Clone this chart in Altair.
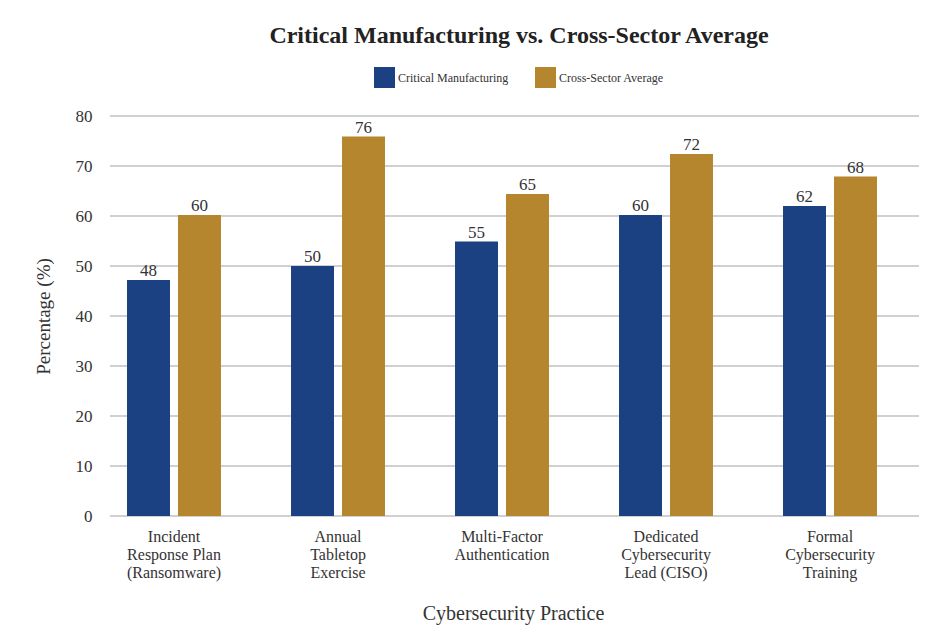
import altair as alt
import pandas as pd

practices = [
    "Incident Response Plan (Ransomware)",
    "Annual Tabletop Exercise",
    "Multi-Factor Authentication",
    "Dedicated Cybersecurity Lead (CISO)",
    "Formal Cybersecurity Training",
]
practice_lines = [
    ["Incident", "Response Plan", "(Ransomware)"],
    ["Annual", "Tabletop", "Exercise"],
    ["Multi-Factor", "Authentication"],
    ["Dedicated", "Cybersecurity", "Lead (CISO)"],
    ["Formal", "Cybersecurity", "Training"],
]
series = ["Critical Manufacturing", "Cross-Sector Average"]
cm_values = [47.2, 50.0, 54.9, 60.2, 62.0]
csa_values = [60.2, 75.9, 64.4, 72.4, 67.9]
cm_labels = ["48", "50", "55", "60", "62"]
csa_labels = ["60", "76", "65", "72", "68"]
y_ticks = [0, 10, 20, 30, 40, 50, 60, 70, 80]

colors = ["#1b4182", "#b5862e"]
FONT = "Liberation Serif"
TEXT = "#333333"

rows = []
for i, p in enumerate(practices):
    rows.append({"practice": p, "series": series[0], "value": cm_values[i], "label": cm_labels[i]})
    rows.append({"practice": p, "series": series[1], "value": csa_values[i], "label": csa_labels[i]})
df = pd.DataFrame(rows)
grid_df = pd.DataFrame({"v": y_ticks})

label_map = {p: "|".join(l) for p, l in zip(practices, practice_lines)}
label_expr = "split({" + ",".join(
    f"'{p}':'{label_map[p]}'" for p in practices
) + "}[datum.label], '|')"

x_enc = alt.X(
    "practice:N",
    sort=practices,
    scale=alt.Scale(paddingInner=0.427, paddingOuter=0.2135),
    axis=alt.Axis(
        title="Cybersecurity Practice",
        labelExpr=label_expr,
        labelAngle=0,
        labelFont=FONT,
        labelFontSize=16,
        labelColor=TEXT,
        labelLineHeight=18,
        labelPadding=12,
        ticks=False,
        domain=False,
        titleFont=FONT,
        titleFontSize=20,
        titleFontWeight="normal",
        titleColor=TEXT,
        titleX=421,
        titleY=103,
        titleBaseline="alphabetic",
    ),
)
xoff = alt.XOffset("series:N", sort=series, scale=alt.Scale(paddingInner=0.157))
y_scale = alt.Scale(domain=[0, 80], nice=False)

grid = alt.Chart(grid_df).mark_rule(color="#d0d0d0", strokeWidth=2).encode(
    y=alt.Y("v:Q", scale=y_scale),
    x=alt.value(18),
    x2=alt.value(828),
)

bars = alt.Chart(df).mark_bar().encode(
    x=x_enc,
    xOffset=xoff,
    y=alt.Y(
        "value:Q",
        scale=y_scale,
        axis=alt.Axis(
            title="Percentage (%)",
            values=y_ticks,
            grid=False,
            ticks=False,
            domain=False,
            labelFont=FONT,
            labelFontSize=17,
            labelColor=TEXT,
            labelPadding=0,
            titleFont=FONT,
            titleFontSize=19,
            titleFontWeight="normal",
            titleColor=TEXT,
            titleX=-43,
            titleY=200,
            titleBaseline="alphabetic",
        ),
    ),
    color=alt.Color(
        "series:N",
        sort=series,
        scale=alt.Scale(domain=series, range=colors),
        legend=alt.Legend(
            title=None,
            orient="none",
            legendX=282,
            legendY=-49,
            direction="horizontal",
            symbolType="square",
            symbolSize=441,
            symbolStrokeWidth=0,
            symbolOpacity=1,
            labelFont=FONT,
            labelFontSize=12,
            labelColor=TEXT,
            labelOffset=3,
            columnPadding=26,
            padding=0,
        ),
    ),
)

texts = alt.Chart(df).mark_text(
    baseline="alphabetic", dy=-4, font=FONT, fontSize=17, color=TEXT
).encode(
    x=alt.X("practice:N", sort=practices),
    xOffset=alt.XOffset("series:N", sort=series),
    y=alt.Y("value:Q", scale=y_scale),
    text="label:N",
)

chart = (
    alt.layer(grid, bars, texts)
    .properties(
        width=820,
        height=400,
        autosize=alt.AutoSizeParams(type="none"),
        padding={"left": 84, "top": 108, "right": 7, "bottom": 115},
        background="white",
        title=alt.TitleParams(
            "Critical Manufacturing vs. Cross-Sector Average",
            font=FONT,
            fontSize=24,
            fontWeight="bold",
            color="#222222",
            anchor="middle",
            dx=17,
            offset=19,
        ),
    )
    .configure_view(stroke=None)
)

chart.save("out.html", embed_options={"renderer": "svg", "actions": False})
